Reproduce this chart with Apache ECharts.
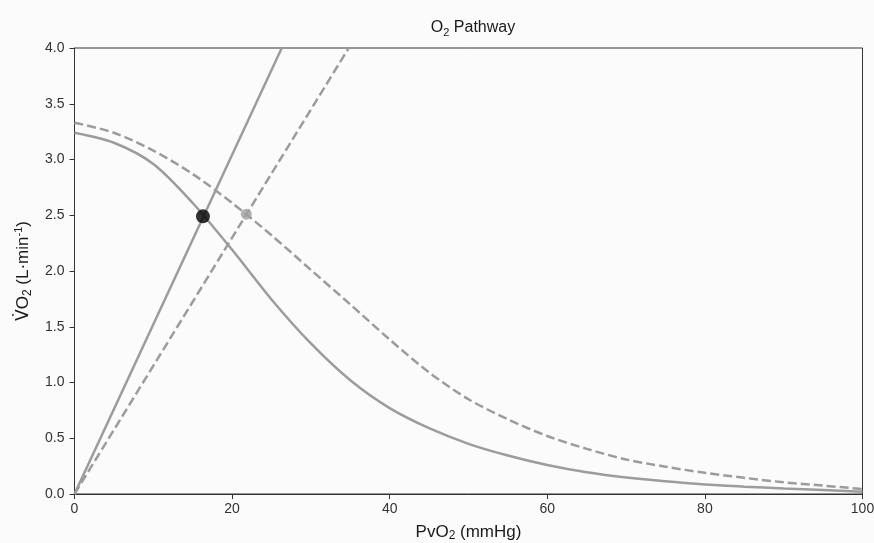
<!DOCTYPE html>
<html>
<head>
<meta charset="utf-8">
<script src="https://cdn.jsdelivr.net/npm/echarts@6/dist/echarts.min.js"></script>
<style>html,body{margin:0;padding:0;background:#fbfbfb;}#c{width:874px;height:543px;}</style>
</head>
<body>
<div id="c"></div>
<script>
// PvO2 sample points (mmHg)
const pvo2 = [0,5,10,15,20,25,30,35,40,45,50,55,60,65,70,75,80,85,90,95,100];
// Solid curve (L/min)
const curveSolid = [3.24,3.15,2.96,2.61,2.19,1.745,1.35,1.02,0.77,0.59,0.45,0.345,0.26,0.195,0.148,0.115,0.085,0.066,0.05,0.035,0.02];
// Dashed curve (L/min)
const curveDashed = [3.33,3.24,3.08,2.87,2.61,2.32,2.01,1.70,1.385,1.09,0.85,0.67,0.52,0.405,0.31,0.245,0.19,0.145,0.105,0.075,0.045];
// Straight lines endpoints
const lineSolidX = [0, 26.3];
const lineSolidY = [0, 4.0];
const lineDashedX = [0, 34.8];
const lineDashedY = [0, 4.0];
// Intersection points
const pointSolid = [16.3, 2.49];
const pointDashed = [21.8, 2.51];
// Axis ticks
const xTicks = {min: 0, max: 100, interval: 20};
const yTicks = {min: 0, max: 4, interval: 0.5};

const zip = (xs, ys) => xs.map((x, i) => [x, ys[i]]);
const gray = '#9c9c9c';
const font = 'Liberation Sans, Arial, sans-serif';
const txt = '#1a1a1a';

const chart = echarts.init(document.getElementById('c'), null, {renderer: 'canvas'});
chart.setOption({
  backgroundColor: '#fbfbfb',
  animation: false,
  title: {
    text: '{a|O}{s|2}{a| Pathway}',
    left: 468,
    textAlign: 'center',
    top: 13,
    textStyle: {
      fontWeight: 'normal',
      rich: {
        a: {fontSize: 16, color: txt, fontFamily: font, fontWeight: 'normal', lineHeight: 20},
        s: {fontSize: 11, color: txt, fontFamily: font, fontWeight: 'normal', verticalAlign: 'bottom'}
      }
    }
  },
  grid: {
    left: 74.5, right: 11.5, top: 48, bottom: 49,
    outerBoundsMode: 'none', containLabel: false,
    show: true, borderColor: '#333', borderWidth: 1, backgroundColor: 'transparent'
  },
  xAxis: {
    type: 'value', min: xTicks.min, max: xTicks.max, interval: xTicks.interval,
    name: '{a|PvO}{s|2}{a| (mmHg)}',
    nameLocation: 'middle', nameGap: 28,
    nameTextStyle: {
      rich: {
        a: {fontSize: 17, color: txt, fontFamily: font, lineHeight: 20},
        s: {fontSize: 12, color: txt, fontFamily: font, verticalAlign: 'bottom'}
      }
    },
    axisLine: {show: true, lineStyle: {color: '#333', width: 1}},
    axisTick: {show: true, length: 5, lineStyle: {color: '#333'}},
    axisLabel: {color: '#333', fontSize: 14, fontFamily: font, margin: 8},
    splitLine: {show: false}
  },
  yAxis: {
    type: 'value', min: yTicks.min, max: yTicks.max, interval: yTicks.interval,
    name: '{v|V\u0307}{a|O}{s|2}{a| (L·min}{p|-1}{a|)}',
    nameLocation: 'middle', nameGap: 41, nameRotate: 90,
    nameTextStyle: {
      rich: {
        v: {fontSize: 17, color: txt, fontFamily: 'DejaVu Sans', lineHeight: 20},
        a: {fontSize: 17, color: txt, fontFamily: font, lineHeight: 20},
        s: {fontSize: 12, color: txt, fontFamily: font, verticalAlign: 'bottom'},
        p: {fontSize: 11, color: txt, fontFamily: font, verticalAlign: 'top'}
      }
    },
    axisLine: {show: true, lineStyle: {color: '#333', width: 1}},
    axisTick: {show: true, length: 5, lineStyle: {color: '#333'}},
    axisLabel: {color: '#333', fontSize: 14, fontFamily: font, margin: 10,
      formatter: v => v.toFixed(1)},
    splitLine: {show: false}
  },
  series: [
    {type: 'line', data: zip(pvo2, curveSolid), smooth: 0.3, symbol: 'none',
      lineStyle: {color: gray, width: 2.5}},
    {type: 'line', data: zip(pvo2, curveDashed), smooth: 0.3, symbol: 'none',
      lineStyle: {color: gray, width: 2.5, type: [9, 4]}},
    {type: 'line', data: zip(lineSolidX, lineSolidY), symbol: 'none',
      lineStyle: {color: gray, width: 2.5}},
    {type: 'line', data: zip(lineDashedX, lineDashedY), symbol: 'none',
      lineStyle: {color: gray, width: 2.5, type: [9, 4]}},
    {type: 'scatter', data: [pointDashed], symbolSize: 11,
      itemStyle: {color: '#a0a0a0'}, z: 5},
    {type: 'scatter', data: [pointSolid], symbolSize: 14,
      itemStyle: {color: '#000'}, z: 6}
  ]
});
</script>
</body>
</html>
